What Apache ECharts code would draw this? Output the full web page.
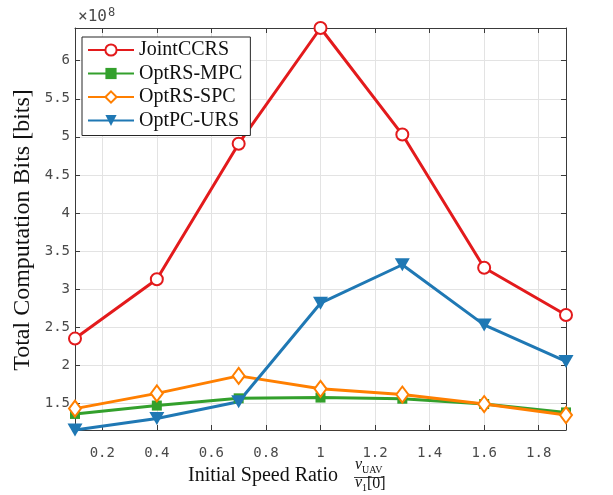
<!DOCTYPE html>
<html>
<head>
<meta charset="utf-8">
<script src="https://cdn.jsdelivr.net/npm/echarts@6/dist/echarts.min.js"></script>
<style>
  html, body { margin: 0; padding: 0; background: #fff; }
  #chart { width: 613px; height: 495px; }
</style>
</head>
<body>
<div id="chart"></div>
<script>
// speed ratio v_UAV / v_1[0]
const speedRatio = [0.1, 0.4, 0.7, 1.0, 1.3, 1.6, 1.9];

// total computation bits, in units of 1e8
const jointCCRS = [2.35, 3.13, 4.91, 6.43, 5.03, 3.28, 2.66];
const optRSMPC  = [1.36, 1.47, 1.565, 1.575, 1.56, 1.49, 1.38];
const optRSSPC  = [1.43, 1.63, 1.86, 1.69, 1.615, 1.49, 1.345];
const optPCURS  = [1.15, 1.30, 1.52, 2.815, 3.32, 2.53, 2.05];

const xTicks = [0.2, 0.4, 0.6, 0.8, 1.0, 1.2, 1.4, 1.6, 1.8];
const yTicks = [1.5, 2, 2.5, 3, 3.5, 4, 4.5, 5, 5.5, 6];

const xRange = [0.1, 1.9];
const yRange = [1.149, 6.43];

const pairs = ys => speedRatio.map((x, i) => [x, ys[i]]);

const tickFont = { fontFamily: 'DejaVu Sans Mono', fontSize: 14, color: '#4a4a4a' };
const serif = 'Liberation Serif';
const axisGray = '#3a3a3a';

function boxAxis(extra) {
  return Object.assign({
    type: 'value',
    axisLine: { show: true, onZero: false, lineStyle: { color: axisGray, width: 1 } },
    axisTick: { show: true, inside: true, length: 5, lineStyle: { color: axisGray } },
    splitLine: { show: false },
    axisLabel: { show: false }
  }, extra);
}

const chart = echarts.init(document.getElementById('chart'), null, { renderer: 'canvas' });

const lineBase = {
  type: 'line',
  clip: false,
  lineStyle: { width: 3 },
  emphasis: { disabled: true },
  animation: false
};

chart.setOption({
  animation: false,
  backgroundColor: '#fff',
  grid: { left: 75, top: 28, right: 47, bottom: 65 },
  xAxis: [
    boxAxis({
      min: xRange[0], max: xRange[1], position: 'bottom',
      axisTick: { show: true, inside: true, length: 5, lineStyle: { color: axisGray }, customValues: xTicks },
      axisLabel: Object.assign({ show: true, margin: 16, customValues: xTicks }, tickFont),
      splitLine: { show: true, lineStyle: { color: '#e3e3e3', width: 1 } }
    }),
    boxAxis({
      min: xRange[0], max: xRange[1], position: 'top',
      axisTick: { show: true, inside: true, length: 5, lineStyle: { color: axisGray }, customValues: xTicks }
    })
  ],
  yAxis: [
    boxAxis({
      min: yRange[0], max: yRange[1], position: 'left',
      axisTick: { show: true, inside: true, length: 5, lineStyle: { color: axisGray }, customValues: yTicks },
      axisLabel: Object.assign({ show: true, margin: 5, customValues: yTicks }, tickFont),
      splitLine: { show: true, lineStyle: { color: '#e3e3e3', width: 1 } }
    }),
    boxAxis({
      min: yRange[0], max: yRange[1], position: 'right',
      axisTick: { show: true, inside: true, length: 5, lineStyle: { color: axisGray }, customValues: yTicks }
    })
  ],
  legend: {
    orient: 'vertical',
    left: 82, top: 37,
    padding: [3, 8, 5, 5],
    itemWidth: 46, itemHeight: 14, itemGap: 3.5,
    backgroundColor: '#fff',
    borderColor: '#262626', borderWidth: 1,
    textStyle: { fontFamily: serif, fontSize: 20, color: '#111', lineHeight: 20 },
    data: ['JointCCRS', 'OptRS-MPC', 'OptRS-SPC', 'OptPC-URS']
  },
  series: [
    Object.assign({}, lineBase, {
      name: 'JointCCRS', data: pairs(jointCCRS),
      color: '#e31a1c',
      symbol: 'emptyCircle', symbolSize: 12,
      itemStyle: { color: '#e31a1c', borderWidth: 2.5 }
    }),
    Object.assign({}, lineBase, {
      name: 'OptRS-MPC', data: pairs(optRSMPC),
      color: '#33a02c',
      symbol: 'rect', symbolSize: 10,
      itemStyle: { color: '#33a02c' }
    }),
    Object.assign({}, lineBase, {
      name: 'OptRS-SPC', data: pairs(optRSSPC),
      color: '#ff7f00',
      symbol: 'emptyDiamond', symbolSize: [12, 16],
      itemStyle: { color: '#ff7f00', borderWidth: 2.5 }
    }),
    Object.assign({}, lineBase, {
      name: 'OptPC-URS', data: pairs(optPCURS),
      color: '#1f78b4',
      symbol: 'triangle', symbolSize: [15, 13], symbolRotate: 180,
      itemStyle: { color: '#1f78b4' }
    })
  ],
  graphic: [
    // exponent
    { type: 'text', x: 78, y: 25, style: { text: '×10', font: '16px DejaVu Sans Mono', fill: '#4a4a4a', textVerticalAlign: 'bottom' } },
    { type: 'text', x: 108, y: 19, style: { text: '8', font: '12px DejaVu Sans Mono', fill: '#4a4a4a', textVerticalAlign: 'bottom' } },
    // y axis title
    { type: 'text', x: 23, y: 230, rotation: Math.PI / 2,
      style: { text: 'Total Computation Bits [bits]', font: '24px ' + serif, fill: '#111', textAlign: 'center', textVerticalAlign: 'middle' } },
    // x axis title
    { type: 'text', x: 188, y: 476, style: { text: 'Initial Speed Ratio', font: '20px ' + serif, fill: '#111', textVerticalAlign: 'middle' } },
    { type: 'text', x: 355, y: 473, style: { text: 'v', font: 'italic 16px ' + serif, fill: '#111', textVerticalAlign: 'bottom' } },
    { type: 'text', x: 362, y: 475, style: { text: 'UAV', font: '10px ' + serif, fill: '#111', textVerticalAlign: 'bottom' } },
    { type: 'rect', shape: { x: 354, y: 477, width: 29, height: 0.8 }, style: { fill: '#111' } },
    { type: 'text', x: 355, y: 491, style: { text: 'v', font: 'italic 16px ' + serif, fill: '#111', textVerticalAlign: 'bottom' } },
    { type: 'text', x: 362, y: 493, style: { text: '1', font: '10px ' + serif, fill: '#111', textVerticalAlign: 'bottom' } },
    { type: 'text', x: 367, y: 492, style: { text: '[0]', font: '16px ' + serif, fill: '#111', textVerticalAlign: 'bottom' } }
  ]
});
</script>
</body>
</html>
